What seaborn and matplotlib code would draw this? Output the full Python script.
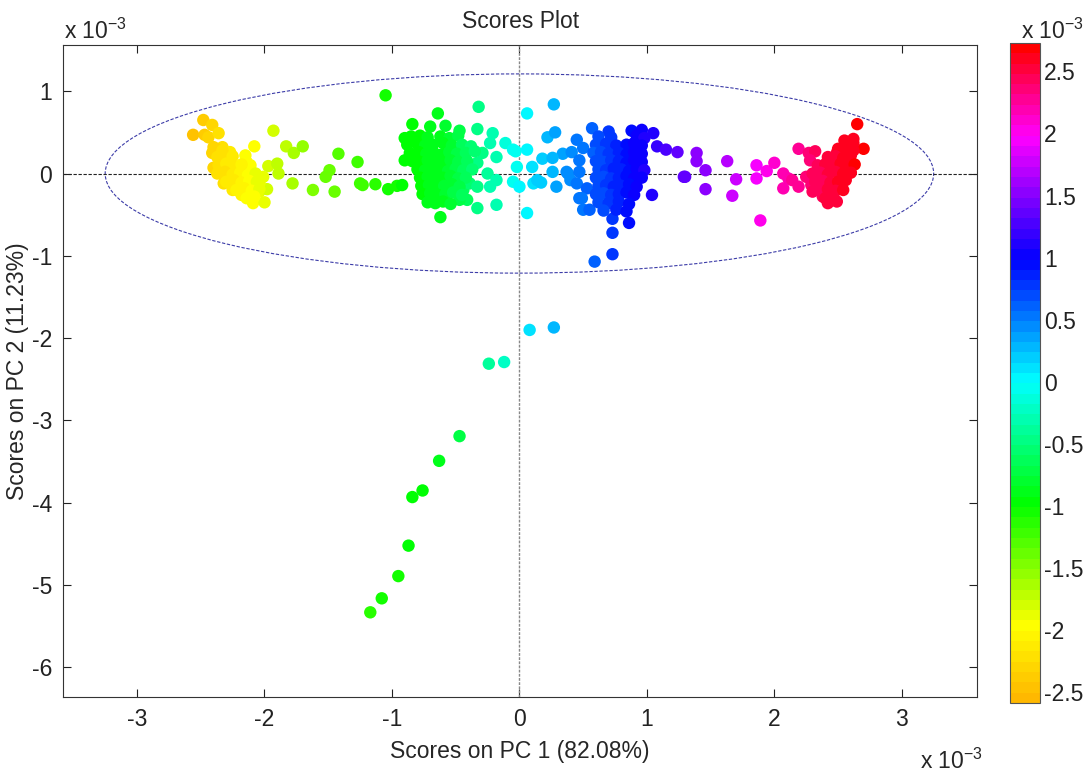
import numpy as np
import pandas as pd
import matplotlib
matplotlib.use("Agg")
import matplotlib.pyplot as plt
import seaborn as sns
from matplotlib.patches import Ellipse
from matplotlib.colors import ListedColormap, Normalize, hsv_to_rgb

# Scores (units of 1e-3), grouped by region
yellow = [(-2.48, 0.65), (-2.41, 0.59), (-2.56, 0.47), (-2.47, 0.47), (-2.44, 0.44),
          (-2.36, 0.49), (-2.40, 0.32), (-2.41, 0.25), (-2.33, 0.32), (-2.27, 0.26),
          (-2.08, 0.33), (-1.93, 0.52), (-1.83, 0.33), (-1.77, 0.25), (-1.70, 0.33),
          (-2.15, 0.22), (-2.14, 0.14), (-1.97, 0.09), (-1.90, 0.12), (-1.89, 0.00),
          (-2.01, -0.04), (-2.40, 0.07), (-2.35, 0.13), (-2.29, 0.16), (-2.32, 0.00),
          (-2.25, 0.04), (-2.19, 0.08), (-2.11, 0.10), (-2.32, -0.12), (-2.25, -0.20),
          (-2.19, -0.08), (-2.14, -0.12), (-2.18, -0.26), (-2.09, -0.36), (-2.04, -0.22),
          (-1.98, -0.19), (-2.00, -0.35), (-2.09, -0.16), (-2.04, -0.12), (-1.78, -0.12),
          (-2.38, 0.30), (-2.33, 0.28), (-2.37, 0.20), (-2.31, 0.18), (-2.25, 0.21),
          (-2.36, 0.10), (-2.30, 0.12), (-2.24, 0.09), (-2.18, 0.11), (-2.37, 0.00),
          (-2.31, 0.02), (-2.25, -0.01), (-2.19, 0.01), (-2.13, -0.02), (-2.07, 0.00),
          (-2.30, -0.10), (-2.24, -0.08), (-2.18, -0.11), (-2.12, -0.09), (-2.06, -0.10),
          (-2.22, -0.20), (-2.16, -0.18), (-2.10, -0.21), (-2.04, -0.19), (-2.14, -0.30),
          (-2.08, -0.28)]

bridge = [(-1.62, -0.20), (-1.45, -0.22), (-1.49, 0.04), (-1.52, -0.04), (-1.25, -0.12),
          (-1.42, 0.24), (-1.27, 0.14), (-1.23, -0.14), (-1.13, -0.13), (-1.03, -0.19),
          (-0.96, -0.15), (-0.92, -0.14), (-1.05, 0.95)]

green = [(-0.32, 0.81), (-0.64, 0.73), (-0.84, 0.60), (-0.70, 0.57), (-0.58, 0.58),
         (-0.47, 0.52), (-0.33, 0.54), (-0.21, 0.49), (-0.11, 0.37), (-0.90, 0.43),
         (-0.90, 0.16), (-0.23, 0.37), (-0.29, 0.25), (-0.18, 0.20), (-0.33, 0.13),
         (-0.25, 0.00), (-0.18, -0.08), (-0.05, 0.29), (-0.02, 0.08), (-0.05, -0.10),
         (0.00, -0.16), (-0.33, -0.42), (-0.18, -0.38), (-0.62, -0.53), (-0.41, -0.32),
         (-0.44, -0.20), (-0.39, -0.12), (-0.33, -0.16), (-0.23, -0.16), (-0.47, -0.32),
         (-0.03, 0.27),
         (-0.85, 0.45), (-0.78, 0.46), (-0.72, 0.44), (-0.62, 0.45), (-0.55, 0.43), (-0.48, 0.46),
         (-0.88, 0.35), (-0.80, 0.36), (-0.74, 0.34), (-0.68, 0.35), (-0.60, 0.37), (-0.53, 0.34),
         (-0.45, 0.35), (-0.38, 0.33),
         (-0.86, 0.25), (-0.79, 0.26), (-0.73, 0.24), (-0.67, 0.25), (-0.61, 0.23), (-0.55, 0.26),
         (-0.49, 0.24), (-0.42, 0.25), (-0.35, 0.27),
         (-0.84, 0.15), (-0.78, 0.14), (-0.72, 0.16), (-0.66, 0.15), (-0.60, 0.13), (-0.54, 0.16),
         (-0.48, 0.14), (-0.41, 0.15),
         (-0.80, 0.05), (-0.74, 0.04), (-0.68, 0.06), (-0.62, 0.05), (-0.56, 0.03), (-0.50, 0.06),
         (-0.44, 0.04), (-0.37, 0.05),
         (-0.78, -0.05), (-0.72, -0.04), (-0.66, -0.06), (-0.60, -0.05), (-0.54, -0.03),
         (-0.48, -0.06), (-0.42, -0.05),
         (-0.77, -0.15), (-0.71, -0.14), (-0.65, -0.16), (-0.59, -0.15), (-0.53, -0.13),
         (-0.47, -0.16),
         (-0.76, -0.25), (-0.70, -0.24), (-0.64, -0.26), (-0.58, -0.25), (-0.52, -0.23),
         (-0.45, -0.26),
         (-0.72, -0.35), (-0.66, -0.36), (-0.60, -0.34), (-0.54, -0.37)]

cyan = [(0.06, 0.73), (0.27, 0.84), (0.06, 0.29), (0.10, 0.08), (0.11, -0.12), (0.06, -0.48),
        (0.22, 0.44), (0.28, 0.50), (0.18, 0.18), (0.34, 0.24), (0.41, 0.26), (0.47, 0.16),
        (0.26, 0.02), (0.14, -0.08), (0.29, -0.16), (0.38, 0.00), (0.40, -0.08), (0.45, -0.12),
        (0.47, -0.30), (0.50, -0.44), (0.55, -0.44), (0.26, 0.19), (0.45, 0.41), (0.50, 0.31),
        (0.37, 0.02), (0.47, 0.02), (0.17, -0.11), (0.53, -0.18), (0.49, -0.30)]

blue = [(0.57, 0.55), (0.70, 0.51), (0.88, 0.52), (0.96, 0.53), (1.05, 0.49), (1.08, 0.33),
        (1.15, 0.29), (1.24, 0.26), (1.29, -0.04), (1.04, -0.26), (0.86, -0.60), (0.73, -0.55),
        (0.73, -0.72), (0.73, -0.98), (0.59, -1.07),
        (0.62, 0.45), (0.72, 0.44), (0.92, 0.46), (0.98, 0.43),
        (0.60, 0.35), (0.68, 0.36), (0.76, 0.34), (0.84, 0.35), (0.90, 0.37), (0.96, 0.34),
        (0.58, 0.25), (0.64, 0.26), (0.70, 0.24), (0.78, 0.25), (0.84, 0.23), (0.90, 0.26),
        (0.96, 0.24),
        (0.60, 0.15), (0.66, 0.14), (0.72, 0.16), (0.78, 0.15), (0.84, 0.13), (0.90, 0.16),
        (0.96, 0.14),
        (0.62, 0.05), (0.68, 0.04), (0.74, 0.06), (0.80, 0.05), (0.86, 0.03), (0.92, 0.06),
        (0.98, 0.04),
        (0.60, -0.05), (0.66, -0.04), (0.72, -0.06), (0.78, -0.05), (0.84, -0.03),
        (0.90, -0.06), (0.96, -0.05),
        (0.62, -0.15), (0.68, -0.14), (0.74, -0.16), (0.80, -0.15), (0.86, -0.13),
        (0.92, -0.16),
        (0.60, -0.25), (0.66, -0.24), (0.72, -0.26), (0.78, -0.25), (0.84, -0.23),
        (0.90, -0.26),
        (0.62, -0.35), (0.70, -0.36), (0.78, -0.34), (0.86, -0.37),
        (0.66, -0.45), (0.76, -0.44), (0.84, -0.46)]

magenta = [(1.39, 0.25), (1.39, 0.15), (1.46, 0.04), (1.46, -0.19), (1.63, 0.15), (1.70, -0.07),
           (1.67, -0.27), (1.86, 0.10), (1.86, -0.06), (1.89, -0.57), (1.94, 0.03), (2.00, 0.13),
           (2.07, 0.00), (2.11, -0.06), (2.14, -0.08), (2.07, -0.18), (2.19, 0.30), (2.19, -0.16),
           (2.27, 0.25), (2.32, 0.27), (2.28, 0.16), (2.25, -0.04), (2.29, -0.14), (2.30, -0.22),
           (1.30, -0.04)]

red = [(2.65, 0.60), (2.70, 0.30), (2.62, 0.37), (2.49, 0.25), (2.41, 0.13), (2.38, -0.28),
       (2.42, -0.36), (2.49, -0.34),
       (2.55, 0.40), (2.62, 0.42), (2.50, 0.30), (2.56, 0.31), (2.62, 0.28),
       (2.42, 0.20), (2.48, 0.21), (2.54, 0.19), (2.60, 0.22),
       (2.34, 0.10), (2.40, 0.11), (2.46, 0.09), (2.52, 0.12), (2.58, 0.10), (2.63, 0.11),
       (2.30, 0.00), (2.36, 0.01), (2.42, -0.01), (2.48, 0.02), (2.54, 0.00), (2.60, 0.01),
       (2.32, -0.10), (2.38, -0.09), (2.44, -0.11), (2.50, -0.10), (2.56, -0.08),
       (2.36, -0.20), (2.42, -0.19), (2.48, -0.21), (2.54, -0.20),
       (2.40, -0.30), (2.46, -0.29)]

tail = [(0.08, -1.90), (0.27, -1.87), (-0.24, -2.31), (-0.12, -2.29), (-0.47, -3.19),
        (-0.63, -3.49), (-0.76, -3.85), (-0.84, -3.93), (-0.87, -4.52), (-0.95, -4.89),
        (-1.08, -5.16), (-1.17, -5.33)]

# colour-bar value of the points, read against their PC1 position
color_at_pc1 = [-2.56, -2.45, -2.2, -1.9, -1.5, -1.1, -0.9, -0.6, -0.4, -0.2, 0.0, 0.3,
                0.55, 0.8, 1.0, 1.3, 1.6, 1.9, 2.2, 2.4, 2.7]
color_value = [-2.5, -2.35, -2.05, -1.75, -1.4, -1.1, -1.0, -0.85, -0.6, -0.3, 0.0, 0.35,
               0.6, 0.9, 1.1, 1.4, 1.7, 2.0, 2.3, 2.5, 2.7]

x_ticks = [-3, -2, -1, 0, 1, 2, 3]
y_ticks = [1, 0, -1, -2, -3, -4, -5, -6]
cbar_ticks = [-2.5, -2, -1.5, -1, -0.5, 0, 0.5, 1, 1.5, 2, 2.5]
cbar_labels = ["-2.5", "-2", "-1.5", "-1", "-0.5", "0", "0.5", "1", "1.5", "2", "2.5"]

pts = yellow + bridge + green + cyan + blue + magenta + red + tail
df = pd.DataFrame(pts, columns=["pc1", "pc2"])
df["cval"] = np.interp(df["pc1"], color_at_pc1, color_value)

sns.set_style("ticks")
plt.rcParams["font.family"] = ["Liberation Sans", "DejaVu Sans"]
plt.rcParams["mathtext.fontset"] = "custom"
plt.rcParams["mathtext.rm"] = "Liberation Sans"

# 64-band hsv-style map: golden orange at the bottom, red at the top
cmin, cmax = -2.59, 2.73
bands = np.linspace(cmin, cmax, 64)
hues = np.interp(bands, [cmin, -2, -1, 0, 1, 2, cmax], [0.12, 0.167, 0.333, 0.5, 0.667, 0.833, 1.0])
hsv = np.stack([hues % 1.0, np.ones(64), np.ones(64)], axis=1)
cmap = ListedColormap(hsv_to_rgb(hsv))
norm = Normalize(cmin, cmax)

fs = 16.5
fig = plt.figure(figsize=(10.88, 7.72), dpi=100)
ax = fig.add_axes([0.058, 0.097, 0.840, 0.8446])
cax = fig.add_axes([0.928, 0.0894, 0.0276, 0.855])

ax.add_patch(Ellipse((0, 0), 6.5, 2.42, fill=False, edgecolor="#3c3ca8",
                     linestyle=(0, (3, 1.5)), linewidth=0.8, zorder=1))
ax.axhline(0, color="#222222", linestyle=(0, (3, 1.5)), linewidth=0.8, zorder=1)
ax.axvline(0, color="#888888", linestyle=(0, (2, 1)), linewidth=1.0, zorder=1)

sns.scatterplot(data=df, x="pc1", y="pc2", hue="cval", palette=cmap, hue_norm=norm,
                s=80, edgecolor="none", legend=False, ax=ax, zorder=3)

ax.set_xlim(-3.58, 3.59)
ax.set_ylim(-6.36, 1.56)
ax.set_xticks(x_ticks)
ax.set_xticklabels([str(t) for t in x_ticks])
ax.set_yticks(y_ticks)
ax.set_yticklabels([str(t) for t in y_ticks])
ax.tick_params(direction="in", length=6, width=0.8, top=True, right=True,
               labelsize=fs, pad=8, colors="#222222")
for sp in ax.spines.values():
    sp.set_linewidth(0.8)
    sp.set_color("#333333")
ax.set_xlabel("Scores on PC 1 (82.08%)", fontsize=fs, labelpad=6)
ax.set_ylabel("Scores on PC 2 (11.23%)", fontsize=fs, labelpad=2)
ax.set_title("Scores Plot", fontsize=fs, pad=12)

fig.text(0.059, 0.950, r"x 10$^{-3}$", fontsize=fs)
fig.text(0.846, 0.004, r"x 10$^{-3}$", fontsize=fs)

sm = plt.cm.ScalarMappable(cmap=cmap, norm=norm)
cb = fig.colorbar(sm, cax=cax)
cb.set_ticks(cbar_ticks)
cb.set_ticklabels(cbar_labels)
cb.outline.set_linewidth(0.8)
cb.outline.set_edgecolor("#555555")
cax.tick_params(direction="in", length=5, width=0.8, left=True, right=True,
                labelsize=fs, pad=3, colors="#222222")
fig.text(0.938, 0.950, r"x 10$^{-3}$", fontsize=fs)

fig.savefig("out.png", dpi=100, facecolor="white")
